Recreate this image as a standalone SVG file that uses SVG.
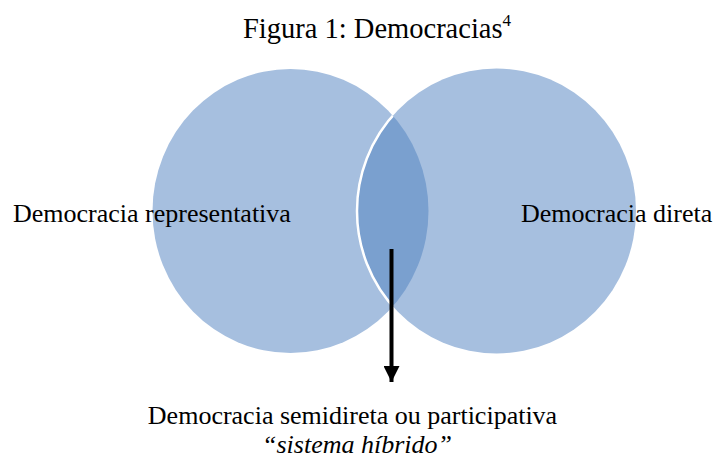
<svg xmlns="http://www.w3.org/2000/svg" width="715" height="460" viewBox="0 0 715 460">
<style>
.t{font-family:"Liberation Serif","Times New Roman",serif;fill:#000;font-size:26px;}
.c{fill:#a6bfdf;}
.lens{fill:#7aa0cf;}
</style>
<defs>
<clipPath id="clipL"><ellipse cx="290.5" cy="211" rx="138" ry="142"/></clipPath>
<marker id="ah" viewBox="0 0 10 10" refX="10" refY="5" markerWidth="4" markerHeight="4" markerUnits="strokeWidth" orient="auto">
<path d="M0,0 L10,5 L0,10 Z" fill="#000"/>
</marker>
</defs>
<rect width="715" height="460" fill="#fff"/>
<text class="t" x="243" y="38" style="font-size:28.5px">Figura 1: Democracias<tspan style="font-size:17px" dy="-12">4</tspan></text>
<g id="representativa">
<ellipse class="c" cx="290.5" cy="211" rx="138" ry="142"/>
</g>
<g id="direta">
<ellipse class="c" cx="496.5" cy="211" rx="139.5" ry="142.5"/>
</g>
<g id="hibrido" clip-path="url(#clipL)">
<ellipse class="lens" cx="496.5" cy="211" rx="139.5" ry="142.5"/>
<ellipse cx="496.5" cy="211" rx="139.5" ry="142.5" fill="none" stroke="#fff" stroke-width="2.5"/>
</g>
<g id="labels">
<text class="t" x="13" y="222">Democracia representativa</text>
<text class="t" x="521" y="222">Democracia direta</text>
<text class="t" x="352.5" y="424" text-anchor="middle">Democracia semidireta ou participativa</text>
<text class="t" x="357" y="453" font-style="italic" text-anchor="middle">“sistema híbrido”</text>
</g>
<g id="connectors">
<line x1="391.5" y1="249" x2="391.5" y2="382" stroke="#000" stroke-width="4" marker-end="url(#ah)"/>
</g>
</svg>
